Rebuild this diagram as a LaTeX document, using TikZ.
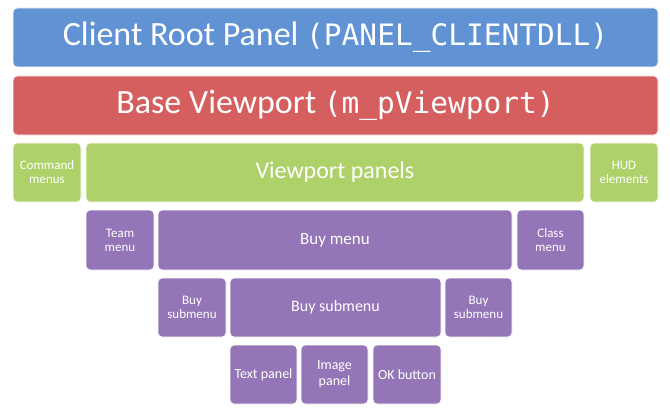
\documentclass[tikz,border=0pt]{standalone}
\usepackage{fontspec}
\setmainfont{Carlito}
\newfontfamily\codefont{DejaVu Sans Mono}
\usepackage{xcolor}
\definecolor{rootblue}{RGB}{96,146,212}
\definecolor{basered}{RGB}{213,94,94}
\definecolor{panelgreen}{RGB}{175,209,106}
\definecolor{menupurple}{RGB}{148,117,183}
\usetikzlibrary{positioning}

\tikzset{
  box/.style={draw=white, line width=0.8pt, rounded corners=4pt, text=white,
    inner sep=0pt, align=center, font=\fontsize{13}{14}\selectfont},
  bigbox/.style={box, font=\fontsize{34}{36}\selectfont},
  midbox/.style={box, font=\fontsize{24}{26}\selectfont},
  buybox/.style={box, font=\fontsize{17}{19}\selectfont},
}
\newcommand\codetxt[1]{{\codefont\fontsize{29.5}{31}\selectfont #1}}

\begin{document}
\begin{tikzpicture}[x=1pt,y=-1pt]
				\useasboundingbox[fill=white] (0,0) rectangle (670,412);
				% top bars
				\node[bigbox, fill=rootblue, minimum width=645, minimum height=59] (root) at (335.5,37.5)
					{Client Root Panel \codetxt{(PANEL\_CLIENTDLL)}};
				\node[bigbox, fill=basered, minimum width=645, minimum height=59] (base) at (335.5,105.5)
					{Base Viewport \codetxt{(m\_pViewport)}};
				% green row
				\node[box, fill=panelgreen, minimum width=68, minimum height=59] (cmd) at (47,172.5) {Command\\menus};
				\node[midbox, fill=panelgreen, minimum width=498, minimum height=59] (vp) at (335,172.5) {Viewport panels};
				\node[box, fill=panelgreen, minimum width=68, minimum height=59] (hud) at (624,172.5) {HUD\\elements};
				% purple rows
				\node[box, fill=menupurple, minimum width=68, minimum height=60] (team) at (120,240) {Team\\menu};
				\node[buybox, fill=menupurple, minimum width=354, minimum height=60] (buy) at (335,240) {Buy menu};
				\node[box, fill=menupurple, minimum width=67, minimum height=60] (class) at (550.5,240) {Class\\menu};
				\node[box, fill=menupurple, minimum width=68, minimum height=59] (subl) at (192,307.5) {Buy\\submenu};
				\node[box, fill=menupurple, minimum width=211, minimum height=59, font=\fontsize{16}{18}\selectfont] (subm) at (335.5,307.5) {Buy submenu};
				\node[box, fill=menupurple, minimum width=67, minimum height=59] (subr) at (478.5,307.5) {Buy\\submenu};
				\node[box, fill=menupurple, minimum width=67, minimum height=59, font=\fontsize{14}{16}\selectfont] (txt) at (263.5,374.5) {Text panel};
				\node[box, fill=menupurple, minimum width=67, minimum height=59, font=\fontsize{14}{16}\selectfont] (img) at (334.5,374.5) {Image\\panel};
				\node[box, fill=menupurple, minimum width=68, minimum height=59, font=\fontsize{14}{16}\selectfont] (ok) at (407,374.5) {OK button};
\end{tikzpicture}
\end{document}
